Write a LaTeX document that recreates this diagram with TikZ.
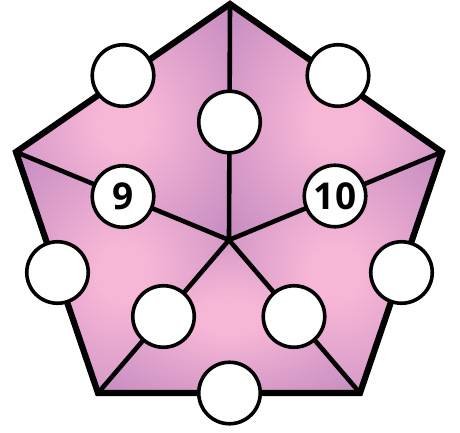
\documentclass[tikz,border=0pt]{standalone}
\usepackage{fontspec}
\setmainfont{Open Sans}
\definecolor{pinkc}{RGB}{246,182,214}
\definecolor{purpc}{RGB}{196,138,192}
\pgfdeclareradialshading{petal}{\pgfpoint{0bp}{0bp}}{color(0bp)=(pinkc); color(6bp)=(pinkc); color(36bp)=(purpc); color(50bp)=(purpc)}
\begin{document}
\begin{tikzpicture}[x=1pt,y=-1pt,
  dot/.style={circle,draw=black,fill=white,line width=3.6pt,minimum size=61.5pt,inner sep=0pt,
    font=\bfseries\fontsize{37}{37}\selectfont},
  spoke/.style={line width=4.6pt},
  rim/.style={line width=6.2pt,line join=miter}]
\useasboundingbox (0,0) rectangle (460,432);
\coordinate (c) at (229,240);
\coordinate (v1) at (230,4);
\coordinate (v2) at (442,152);
\coordinate (v3) at (360,393);
\coordinate (v4) at (98,393);
\coordinate (v5) at (16,152);
\foreach \a/\b in {v1/v2,v2/v3,v3/v4,v4/v5,v5/v1}
  \shade[shading=petal] (c) -- (\a) -- (\b) -- cycle;
\draw[spoke] (c) -- (v1) (c) -- (v2) (c) -- (v3) (c) -- (v4) (c) -- (v5);
\draw[rim] (v1) -- (v2) -- (v3) -- (v4) -- (v5) -- cycle;
% outer circles
\node[dot] (o1) at (123,75.5) {};
\node[dot] (o2) at (338,75.5) {};
\node[dot] (o3) at (401.5,272.5) {};
\node[dot] (o4) at (229.5,393) {};
\node[dot] (o5) at (57.5,272.5) {};
% inner circles
\node[dot] (i1) at (229.5,122) {};
\node[dot] (i2) at (335,196) {10};
\node[dot] (i3) at (294,316.5) {};
\node[dot] (i4) at (163.5,316.5) {};
\node[dot] (i5) at (123,196.5) {9};
\end{tikzpicture}
\end{document}
